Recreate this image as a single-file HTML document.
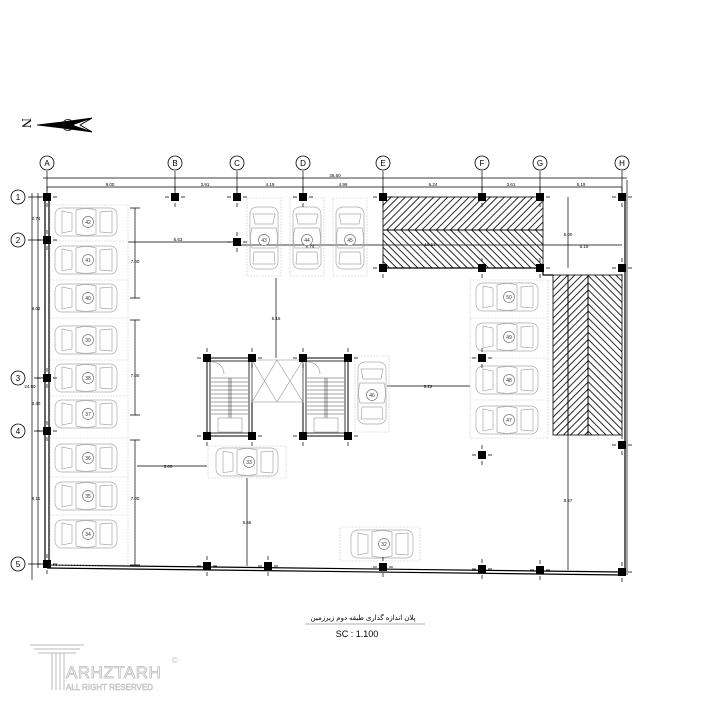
<!DOCTYPE html>
<html><head><meta charset="utf-8"><style>html,body{margin:0;padding:0;background:#fff}svg{display:block}</style></head>
<body>
<svg width="720" height="720" viewBox="0 0 720 720" xmlns="http://www.w3.org/2000/svg" font-family="Liberation Sans, sans-serif">
<defs>
<pattern id="h1" width="5" height="5" patternUnits="userSpaceOnUse" patternTransform="rotate(45)"><line x1="1" y1="0" x2="1" y2="5" stroke="#111" stroke-width="0.9"/></pattern>
<pattern id="h2" width="5" height="5" patternUnits="userSpaceOnUse" patternTransform="rotate(-45)"><line x1="1" y1="0" x2="1" y2="5" stroke="#111" stroke-width="0.9"/></pattern>
<g id="car" fill="none" stroke="#aaa" stroke-width="0.7">
<rect x="-31" y="-14" width="62" height="28" rx="7"/>
<path d="M-24,-11 L-14,-9 L-14,9 L-24,11 Z"/>
<path d="M-10,-12 Q0,-15 10,-12 L10,12 Q0,15 -10,12 Z"/>
<path d="M14,-10 L26,-11 L26,11 L14,10 Z"/>
<circle cx="2" cy="0" r="5.5" fill="#fff" stroke="#777"/>
</g>
<g id="col"><rect x="-4" y="-4" width="8" height="8" fill="#000"/><path d="M-10,0H-6M6,0H10M0,-10V-6M0,6V10" stroke="#000" stroke-width="0.7"/></g>
</defs>

<text x="20" y="130" font-size="14" font-family="Liberation Serif, serif" transform="rotate(90 27 125)">N</text>
<path d="M37,125 L62,122 L92,118 L80,125 L92,132 L62,128 Z" fill="#000" stroke="#000" stroke-width="0.8"/>
<path d="M72,125 L92,118 L80,125 L92,132 Z" fill="#fff" stroke="#000" stroke-width="0.8"/>
<circle cx="68" cy="125" r="5.5" fill="none" stroke="#000" stroke-width="0.8"/>

<g fill="none" stroke="#000" stroke-width="0.8">
<circle cx="47" cy="163" r="7"/><circle cx="175" cy="163" r="7"/><circle cx="237" cy="163" r="7"/><circle cx="303" cy="163" r="7"/>
<circle cx="383" cy="163" r="7"/><circle cx="482" cy="163" r="7"/><circle cx="540" cy="163" r="7"/><circle cx="622" cy="163" r="7"/>
<circle cx="18" cy="197" r="7"/><circle cx="18" cy="240" r="7"/><circle cx="18" cy="378" r="7"/><circle cx="18" cy="431" r="7"/><circle cx="18" cy="564" r="7"/>
</g>
<g font-size="8" text-anchor="middle">
<text x="47" y="166">A</text><text x="175" y="166">B</text><text x="237" y="166">C</text><text x="303" y="166">D</text>
<text x="383" y="166">E</text><text x="482" y="166">F</text><text x="540" y="166">G</text><text x="622" y="166">H</text>
<text x="18" y="200">1</text><text x="18" y="243">2</text><text x="18" y="381">3</text><text x="18" y="434">4</text><text x="18" y="567">5</text>
</g>

<g stroke="#000" stroke-width="0.7" fill="none">
<path d="M43,178H627M47,187H622"/>
<path d="M47,171V195M175,171V195M237,171V195M303,171V195M383,171V195M482,171V195M540,171V195M622,171V195"/>
<path d="M32,193V580M38,193V568M28,197H47M28,240H47M34,378H47M34,431H47M28,564H47"/>
<path d="M128,242H237M237,245H622M550,245H622"/>
<path d="M135,208V298M135,320V415M135,440V565"/>
<path d="M130,208H140M130,298H140M130,320H140M130,415H140M130,440H140M130,565H140"/>
<path d="M276,278V358M247,478V566M387,386H470M137,466H207"/>
<path d="M568,197V268M568,275V570M627,180V575"/>
</g>
<g font-size="4.5" text-anchor="middle" fill="#000">
<text x="335" y="177">36.60</text><text x="110" y="186">8.00</text><text x="205" y="186">3.91</text><text x="270" y="186">4.19</text>
<text x="343" y="186">4.96</text><text x="433" y="186">6.24</text><text x="511" y="186">3.61</text><text x="581" y="186">5.19</text>
<text x="178" y="241">6.63</text><text x="310" y="248">8.74</text><text x="430" y="246">10.17</text><text x="584" y="248">5.19</text>
<text x="36" y="220">2.74</text><text x="36" y="310">8.62</text><text x="30" y="388">24.50</text><text x="36" y="405">3.40</text><text x="36" y="500">8.11</text>
<text x="135" y="263">7.00</text><text x="135" y="377">7.00</text><text x="135" y="500">7.00</text>
<text x="276" y="320">5.16</text><text x="247" y="524">5.56</text><text x="428" y="388">5.22</text><text x="168" y="468">5.00</text>
<text x="568" y="236">5.00</text><text x="568" y="502">8.57</text>
</g>

<g stroke="#000" stroke-width="1.2" fill="none">
<path d="M45,193V568M49,197V566"/>
<path d="M47,565L622,572M47,568L622,575"/>
<path d="M625,193V575"/>
</g>

<rect x="383" y="197" width="160" height="33" fill="url(#h1)" stroke="#000" stroke-width="0.8"/>
<rect x="383" y="230" width="160" height="38" fill="url(#h2)" stroke="#000" stroke-width="0.8"/>
<path d="M383,268H543V275H553" stroke="#000" stroke-width="1.2" fill="none"/>
<rect x="553" y="275" width="15" height="160" fill="url(#h1)" stroke="#000" stroke-width="0.8"/>
<rect x="568" y="275" width="20" height="160" fill="url(#h1)" stroke="#000" stroke-width="0.8"/>
<rect x="588" y="275" width="34" height="160" fill="url(#h2)" stroke="#000" stroke-width="0.8"/>

<g fill="none" stroke="#ccc" stroke-width="0.6" stroke-dasharray="2,1">
<rect x="50" y="205" width="78" height="360"/>
<path d="M50,241H128M50,280H128M50,318H128M50,360H128M50,396H128M50,438H128M50,477H128M50,515H128"/>
<rect x="247" y="198" width="34" height="78"/><rect x="290" y="198" width="34" height="78"/><rect x="333" y="198" width="34" height="78"/>
<rect x="470" y="280" width="78" height="158"/>
<path d="M470,318H548M470,358H548M470,400H548"/>
<rect x="355" y="356" width="34" height="76"/>
<rect x="208" y="446" width="78" height="32"/>
<rect x="340" y="527" width="80" height="34"/>
</g>

<use href="#car" x="86" y="222"/><use href="#car" x="86" y="260"/><use href="#car" x="86" y="298"/>
<use href="#car" x="86" y="340"/><use href="#car" x="86" y="378"/><use href="#car" x="86" y="414"/>
<use href="#car" x="86" y="458"/><use href="#car" x="86" y="496"/><use href="#car" x="86" y="534"/>
<use href="#car" transform="translate(264,238) rotate(90)"/><use href="#car" transform="translate(307,238) rotate(90)"/><use href="#car" transform="translate(350,238) rotate(90)"/>
<use href="#car" x="507" y="297"/><use href="#car" x="507" y="337"/><use href="#car" x="507" y="380"/><use href="#car" x="507" y="420"/>
<use href="#car" transform="translate(372,393) rotate(90)"/>
<use href="#car" x="247" y="462"/><use href="#car" x="382" y="544"/>
<g font-size="5" text-anchor="middle" fill="#333">
<text x="88" y="224">42</text><text x="88" y="262">41</text><text x="88" y="300">40</text><text x="88" y="342">39</text><text x="88" y="380">38</text>
<text x="88" y="416">37</text><text x="88" y="460">36</text><text x="88" y="498">35</text><text x="88" y="536">34</text>
<text x="264" y="242">43</text><text x="307" y="242">44</text><text x="350" y="242">45</text>
<text x="509" y="299">50</text><text x="509" y="339">49</text><text x="509" y="382">48</text><text x="509" y="422">47</text>
<text x="372" y="397">46</text><text x="249" y="464">33</text><text x="384" y="546">32</text>
</g>

<g fill="none" stroke="#000" stroke-width="0.8">
<rect x="207" y="358" width="45" height="78" stroke-width="1"/>
<rect x="210" y="361" width="39" height="72"/>
<rect x="303" y="358" width="45" height="78" stroke-width="1"/>
<rect x="306" y="361" width="39" height="72"/>
</g>
<g fill="none" stroke="#444" stroke-width="0.6">
<path d="M211,378H248M211,382H248M211,386H248M211,390H248M211,394H248M211,398H248M211,402H248M211,406H248M211,410H248M211,414H248"/>
<path d="M229,378V418M231,378V418"/>
<path d="M307,378H344M307,382H344M307,386H344M307,390H344M307,394H344M307,398H344M307,402H344M307,406H344M307,410H344M307,414H344"/>
<path d="M325,378V418M327,378V418"/>
</g>
<g fill="none" stroke="#999" stroke-width="0.6">
<rect x="252" y="360" width="51" height="42"/>
<path d="M252,360L277,402M277,360L252,402M277,360L303,402M303,360L277,402"/>
<path d="M212,362A12,12 0 0 1 224,374M308,362A12,12 0 0 1 320,374"/>
<rect x="218" y="418" width="24" height="14"/><rect x="314" y="418" width="24" height="14"/>
</g>

<g>
<use href="#col" x="47" y="197"/><use href="#col" x="175" y="197"/><use href="#col" x="237" y="197"/><use href="#col" x="303" y="197"/>
<use href="#col" x="383" y="197"/><use href="#col" x="482" y="197"/><use href="#col" x="540" y="197"/><use href="#col" x="622" y="197"/>
<use href="#col" x="47" y="240"/><use href="#col" x="237" y="242"/>
<use href="#col" x="383" y="268"/><use href="#col" x="482" y="268"/><use href="#col" x="540" y="268"/><use href="#col" x="622" y="268"/>
<use href="#col" x="47" y="378"/><use href="#col" x="47" y="431"/>
<use href="#col" x="207" y="358"/><use href="#col" x="252" y="358"/><use href="#col" x="303" y="358"/><use href="#col" x="348" y="358"/>
<use href="#col" x="207" y="436"/><use href="#col" x="252" y="436"/><use href="#col" x="303" y="436"/><use href="#col" x="348" y="436"/>
<use href="#col" x="482" y="358"/><use href="#col" x="482" y="455"/><use href="#col" x="622" y="445"/>
<use href="#col" x="47" y="564"/><use href="#col" x="207" y="566"/><use href="#col" x="268" y="566"/><use href="#col" x="383" y="567"/>
<use href="#col" x="482" y="569"/><use href="#col" x="540" y="570"/><use href="#col" x="622" y="572"/>
</g>

<text x="363" y="620" font-size="7" text-anchor="middle" font-family="Liberation Sans, DejaVu Sans, sans-serif">پلان اندازه گذاری طبقه دوم زیرزمین</text>
<line x1="305" y1="624" x2="425" y2="624" stroke="#999" stroke-width="0.8"/>
<text x="357" y="637" font-size="9" text-anchor="middle">SC :  1.100</text>

<g fill="none" stroke="#bbb" stroke-width="1">
<path d="M30,645H84M34,649H80M38,653H76"/>
<path d="M52,653V690M56,653V690M60,653V690M64,653V690"/>
</g>
<text x="66" y="678" font-size="17" fill="#fff" stroke="#bbb" stroke-width="0.8" letter-spacing="0.5">ARHZTARH</text>
<text x="66" y="690" font-size="8" fill="#fff" stroke="#bbb" stroke-width="0.5">ALL RIGHT RESERVED</text>
<text x="172" y="663" font-size="8" fill="#bbb">©</text>
</svg>
</body></html>
